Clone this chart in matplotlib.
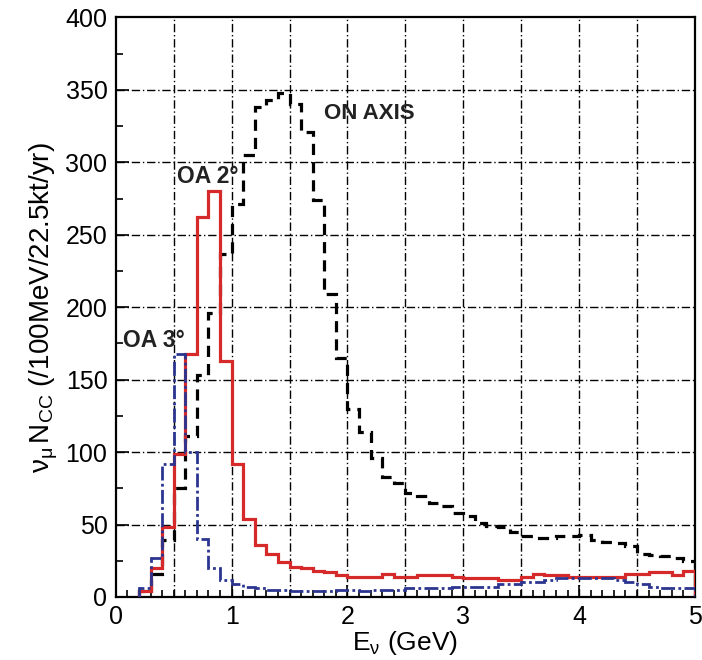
import numpy as np
import matplotlib
matplotlib.use("Agg")
import matplotlib.pyplot as plt
from matplotlib.ticker import MultipleLocator

plt.rcParams['font.family'] = ['Liberation Sans', 'DejaVu Sans']
plt.rcParams['mathtext.fontset'] = 'custom'
plt.rcParams['mathtext.rm'] = 'Liberation Sans'
plt.rcParams['mathtext.it'] = 'Liberation Sans'

# bin edges, 100 MeV bins from 0.2 to 5 GeV
edges = np.round(np.arange(0.2, 5.001, 0.1), 2)

on_axis = [4, 16, 39, 75, 111, 153, 196, 237, 271, 305,
           338, 343, 348, 340, 321, 274, 209, 165, 130, 114,
           96, 83, 79, 72, 70, 65, 63, 58, 56, 51,
           49, 48, 45, 42, 41, 41, 42, 42, 43, 39,
           38, 37, 35, 30, 29, 28, 27, 25]

oa2 = [4, 20, 48, 99, 168, 262, 280, 163, 92, 54,
       36, 30, 24, 21, 20, 18, 17, 15, 14, 14,
       14, 16, 14, 14, 15, 15, 15, 14, 13, 13,
       13, 12, 12, 14, 16, 15, 15, 14, 14, 14,
       14, 14, 16, 16, 17, 17, 15, 18]

oa3 = [6, 27, 92, 168, 100, 40, 20, 12, 9, 7,
       6, 5, 5, 4, 4, 4, 4, 5, 5, 4,
       5, 5, 5, 6, 6, 6, 6, 7, 7, 7,
       7, 9, 9, 10, 10, 12, 13, 13, 13, 13,
       13, 12, 10, 9, 7, 6, 6, 6]

fig = plt.figure(figsize=(7.02, 6.6), dpi=100)
ax = fig.add_axes([0.165, 0.0955, 0.825, 0.878])

# dash-dot grid every 0.5 GeV and every 50 events
for gx in np.arange(0.5, 5.0, 0.5):
    ax.axvline(gx, color='black', lw=1.0, ls=(0, (6, 2, 1, 2)), zorder=1)
for gy in np.arange(50, 400, 50):
    ax.axhline(gy, color='black', lw=1.0, ls=(0, (6, 2, 1, 2)), zorder=1)

ax.stairs(on_axis, edges, color='black', lw=2.3, ls=(0, (3.5, 2.2)), baseline=0, zorder=3)
ax.stairs(oa2, edges, color='#d62a2a', lw=2.3, baseline=0, zorder=4)
ax.stairs(oa3, edges, color='#2b3590', lw=2.0, ls=(0, (5, 1.2, 1, 1.2)), baseline=0, zorder=5)

ax.text(1.8, 334, 'ON AXIS', fontsize=16, fontweight='bold', color='#222222', va='center')
ax.text(0.53, 290, 'OA 2°', fontsize=16.5, fontweight='bold', color='#222222', va='center')
ax.text(0.06, 177, 'OA 3°', fontsize=16.5, fontweight='bold', color='#222222', va='center')

ax.set_xlim(0, 5)
ax.set_ylim(0, 400)
ax.xaxis.set_major_locator(MultipleLocator(1))
ax.xaxis.set_minor_locator(MultipleLocator(0.1))
ax.yaxis.set_major_locator(MultipleLocator(50))
ax.yaxis.set_minor_locator(MultipleLocator(25))
ax.tick_params(which='both', direction='in', labelsize=18, width=1.2)
ax.tick_params(which='major', length=9, pad=6)
ax.tick_params(which='minor', length=5)

for s in ax.spines.values():
    s.set_linewidth(1.6)

ax.set_xlabel(r'$\mathrm{E_{\nu}}$ (GeV)', fontsize=19, labelpad=0)
ax.set_ylabel(r'$\mathrm{\nu_{\mu}\,N_{CC}}$ (/100MeV/22.5kt/yr)', fontsize=20, labelpad=4)

fig.savefig('out.png', dpi=100)
